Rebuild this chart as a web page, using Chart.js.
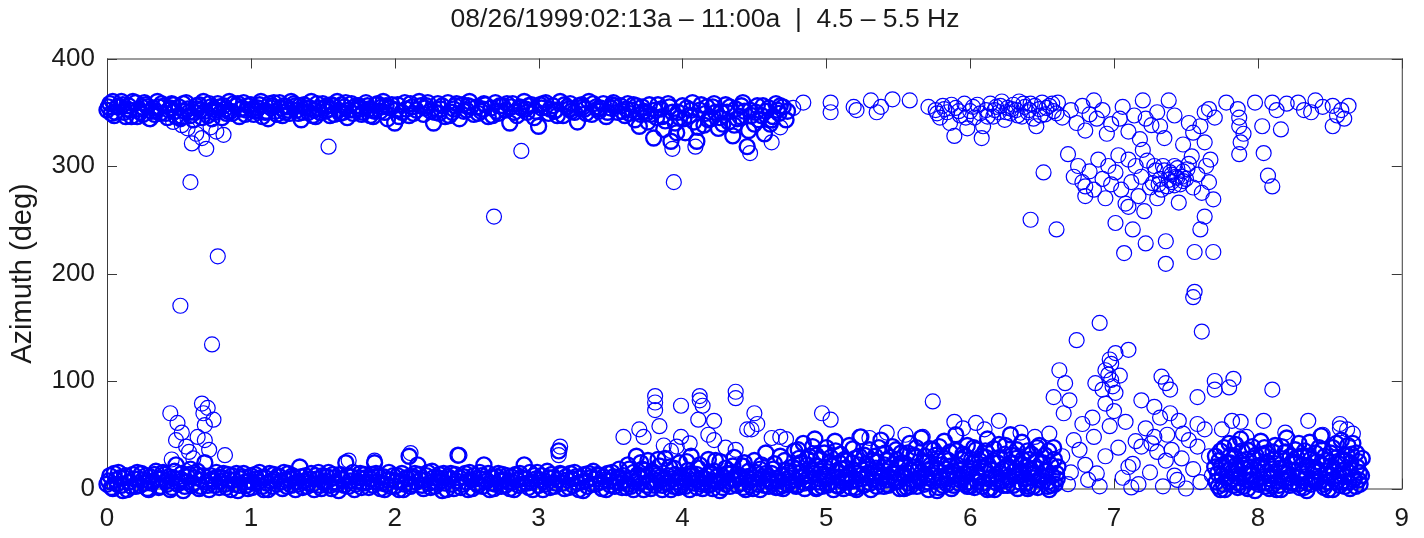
<!DOCTYPE html>
<html>
<head>
<meta charset="utf-8">
<title>Azimuth 08/26/1999</title>
<script src="https://cdn.jsdelivr.net/npm/chart.js@4.4.1/dist/chart.umd.min.js"></script>
<style>
  body { margin: 0; background: #fff; }
  #wrap { width: 1424px; height: 538px; }
</style>
</head>
<body>
<div id="wrap"><canvas id="azChart" width="1424" height="538"></canvas></div>
<script>
// chart text
const chartTitle = '08/26/1999:02:13a \u2013 11:00a  |  4.5 \u2013 5.5 Hz';
const yLabel = 'Azimuth (deg)';
const xTicks = [0, 1, 2, 3, 4, 5, 6, 7, 8, 9];
const yTicks = [0, 100, 200, 300, 400];

// azimuth values [time, deg], grouped by region
// upper band, 0 - 4.75
const upperBand = [
  [0.00,352],[0.02,358],[0.05,347],[0.07,355],[0.10,360],[0.12,350],[0.15,356],[0.17,346],[0.20,359],[0.22,353],
  [0.25,348],[0.27,357],[0.30,344],[0.32,354],[0.35,360],[0.37,349],[0.40,356],[0.42,345],[0.45,358],[0.47,351],
  [0.50,355],[0.52,346],[0.55,359],[0.57,350],[0.60,343],[0.62,356],[0.65,352],[0.67,360],[0.70,347],[0.72,355],
  [0.75,350],[0.77,358],[0.80,345],[0.82,353],[0.85,360],[0.87,349],[0.90,356],[0.92,346],[0.95,359],[0.97,352],
  [1.00,357],[1.02,348],[1.05,354],[1.07,360],[1.10,350],[1.12,344],[1.15,356],[1.17,351],[1.20,359],[1.22,347],
  [1.25,355],[1.27,349],[1.30,358],[1.32,352],[1.35,343],[1.37,357],[1.40,350],[1.42,360],[1.45,346],[1.47,354],
  [1.50,358],[1.52,351],[1.55,347],[1.57,356],[1.60,360],[1.62,349],[1.65,355],[1.67,345],[1.70,358],[1.72,352],
  [1.75,356],[1.77,348],[1.80,359],[1.82,353],[1.85,346],[1.87,357],[1.90,351],[1.92,360],[1.95,344],[1.97,354],
  [2.00,340],[2.02,357],[2.05,350],[2.07,359],[2.10,347],[2.12,355],[2.15,352],[2.17,360],[2.20,348],[2.22,356],
  [2.25,351],[2.27,340],[2.30,358],[2.32,353],[2.35,346],[2.37,359],[2.40,350],[2.42,356],[2.45,344],[2.47,357],
  [2.50,352],[2.52,360],[2.55,348],[2.57,355],[2.60,351],[2.62,358],[2.65,346],[2.67,354],[2.70,359],[2.72,349],
  [2.75,356],[2.77,352],[2.80,340],[2.82,358],[2.85,347],[2.87,355],[2.90,360],[2.92,350],[2.95,357],[2.97,345],
  [3.00,337],[3.02,354],[3.05,359],[3.07,349],[3.10,356],[3.12,352],[3.15,360],[3.17,347],[3.20,355],[3.22,358],
  [3.25,350],[3.27,341],[3.30,357],[3.32,353],[3.35,360],[3.37,348],[3.40,355],[3.42,351],[3.45,358],[3.47,346],
  [3.50,354],[3.52,359],[3.55,350],[3.57,356],[3.60,347],[3.62,358],[3.65,352],[3.67,343],[3.70,337],[3.72,355],
  [3.75,349],[3.77,357],[3.80,326],[3.82,345],[3.85,353],[3.87,334],[3.90,358],[3.92,323],[3.95,340],[3.97,350],
  [4.00,356],[4.02,331],[4.05,347],[4.07,359],[4.10,323],[4.12,352],[4.15,338],[4.17,355],[4.20,344],[4.22,358],
  [4.25,335],[4.27,350],[4.30,357],[4.32,341],[4.35,328],[4.37,353],[4.40,346],[4.42,359],[4.45,318],[4.47,352],
  [4.50,339],[4.52,356],[4.55,347],[4.57,330],[4.60,354],[4.62,343],[4.65,358],[4.67,349],[4.70,355],[4.73,351]
];
const upperFill = [
  [0.01,355],[0.06,350],[0.11,357],[0.16,352],[0.21,346],[0.26,359],[0.31,351],[0.36,355],[0.41,349],[0.46,357],
  [0.51,344],[0.56,353],[0.61,350],[0.66,345],[0.71,358],[0.76,352],[0.81,356],[0.86,351],[0.91,358],[0.96,348],
  [1.01,353],[1.06,357],[1.11,351],[1.16,359],[1.21,354],[1.26,352],[1.31,356],[1.36,350],[1.41,354],[1.46,358],
  [1.51,354],[1.56,357],[1.61,352],[1.66,359],[1.71,349],[1.76,353],[1.81,356],[1.86,351],
  [1.91,355],[2.01,352],[2.11,358],[2.21,354],[2.31,349],[2.41,353],[2.51,356],[2.61,353],[2.71,351],[2.81,355],
  [2.91,353],[3.01,357],[3.11,351],[3.21,353],[3.31,355],[3.41,353],[3.51,357],
  [3.61,353],[3.66,357],[3.71,348],[3.76,341],[3.81,352],[3.86,346],[3.91,355],[3.96,331],[4.01,344],[4.06,352],
  [4.11,336],[4.16,349],[4.21,355],[4.26,345],[4.31,350],[4.36,338],[4.41,356],[4.46,333],[4.51,350],[4.56,356],
  [4.61,339],[4.66,352]
];
const upperFill2 = [
  [0.03,349],[0.08,356],[0.13,346],[0.18,360],[0.23,350],[0.28,355],[0.33,348],[0.38,358],[0.43,352],[0.48,346],
  [0.53,358],[0.58,347],[0.63,353],[0.68,351],[0.73,344],[0.78,355],[0.83,349],[0.88,358],[0.93,353],[0.98,356],
  [1.03,351],[1.08,346],[1.13,358],[1.18,348],[1.23,356],[1.28,360],[1.33,349],[1.38,354],[1.43,347],[1.48,350],
  [1.53,356],[1.58,348],[1.63,357],[1.68,352],[1.73,356],[1.78,350],[1.83,347],[1.88,358],[1.93,350],[1.98,357],
  [2.03,346],[2.08,353],[2.13,349],[2.18,356],[2.23,359],[2.28,350],[2.33,356],[2.38,347],[2.43,358],[2.48,351],
  [2.53,355],[2.58,349],[2.63,357],[2.68,347],[2.73,356],[2.78,358],[2.83,350],[2.88,354],[2.93,356],[2.98,351],
  [3.03,358],[3.08,353],[3.13,347],[3.18,357],[3.23,351],[3.28,356],[3.33,349],[3.38,358],[3.43,354],[3.48,350],
  [3.53,356],[3.58,351],[3.63,349],[3.68,356],[3.73,351],[3.78,348],[3.83,357],[3.88,342],[3.93,350],[3.98,345],
  [4.03,354],[4.08,341],[4.13,357],[4.18,343],[4.23,350],[4.28,339],[4.33,355],[4.38,344],[4.43,351],[4.48,347],
  [4.53,343],[4.58,351],[4.63,346],[4.68,356],[4.72,343],
  [0.04,360],[0.14,353],[0.24,355],[0.34,351],[0.44,354],[0.54,351],[0.64,357],[0.74,353],[0.84,351],[0.94,354],
  [1.04,352],[1.14,354],[1.24,350],[1.34,356],[1.44,352],[1.54,353],[1.64,350],[1.74,354],[1.84,352],[1.94,356]
];
const upperOutliers = [
  [0.29,344],[0.46,341],[0.52,338],[0.56,335],[0.59,321],[0.62,330],[0.66,326],[0.69,316],[0.72,336],[0.76,332],
  [0.81,329],[0.58,285],[0.77,216],[1.54,318],[2.69,253],[2.88,314],[3.94,285],[3.93,316],[4.09,318],[4.47,312],
  [4.62,322],[4.68,336]
];
// upper band, 4.75 - 8.7
const upperRight = [
  [4.77,354],[4.84,359],[5.03,359],[5.03,350],[5.19,355],[5.21,352],[5.31,361],[5.35,350],[5.38,355],[5.46,362],
  [5.58,361],[5.71,355],
  [5.76,352],[5.79,345],[5.81,356],[5.84,350],[5.86,340],[5.89,328],[5.90,354],[5.93,347],[5.96,358],[5.98,335],
  [6.00,351],[6.03,345],[6.05,357],[6.08,326],[6.09,337],[6.11,352],[6.14,358],[6.16,346],[6.18,355],[6.20,350],
  [6.22,360],[6.24,343],[6.26,354],[6.28,349],[6.30,357],[6.32,352],[6.34,360],[6.36,346],[6.38,355],[6.40,350],
  [6.42,358],[6.44,344],[6.46,337],[6.48,353],[6.50,359],[6.52,348],[6.55,356],[6.58,351],[6.61,359],
  [5.77,349],[5.82,353],[5.87,357],[5.92,351],[5.97,345],[6.02,355],[6.07,349],[6.12,346],[6.17,352],[6.21,356],
  [6.25,350],[6.29,353],[6.33,347],[6.37,358],[6.41,352],[6.45,356],[6.49,347],[6.53,354],[6.57,358],[6.60,349],
  [6.64,345],[6.70,352],[6.74,340],[6.78,356],[6.80,333],[6.83,348],[6.86,361],[6.88,344],[6.92,352],[6.95,330],
  [6.98,339],[7.04,344],[7.06,355],[7.10,332],[7.14,347],[7.18,325],[7.20,361],[7.22,344],[7.26,338],[7.30,350],
  [7.32,337],[7.35,326],[7.38,361],[7.42,347],[7.48,320],[7.52,340],[7.55,331],[7.60,337],[7.63,350],[7.66,353],
  [7.70,345],[7.78,359],[7.86,353],[7.87,345],[7.87,337],[7.88,322],[7.87,311],[7.90,330],[7.98,359],[8.03,337],
  [8.04,312],[8.07,291],[8.10,281],[8.10,359],[8.13,352],[8.16,334],[8.20,358],[8.28,359],[8.32,352],[8.37,350],
  [8.40,361],[8.45,355],[8.52,356],[8.52,337],[8.55,347],[8.58,352],[8.63,356],[8.60,344]
];
// spread between 180 and 320, 6.4 - 7.7
const midScatter = [
  [6.42,250],[6.51,294],[6.60,241],[6.68,311],[6.72,290],[6.75,300],[6.78,285],[6.80,281],[6.80,272],[6.83,295],
  [6.86,278],[6.89,306],[6.92,288],[6.94,270],[6.96,300],[6.98,283],[7.01,294],[7.01,247],[7.03,310],[7.05,278],
  [7.07,219],[7.08,265],[7.10,306],[7.10,262],[7.12,285],[7.13,241],[7.15,300],[7.17,272],[7.19,290],[7.21,258],
  [7.22,228],[7.23,305],[7.25,280],[7.27,284],[7.29,296],[7.30,270],[7.32,288],[7.34,300],[7.36,230],[7.36,209],
  [7.37,281],[7.39,294],[7.40,285],[7.42,300],[7.43,290],[7.45,266],[7.46,283],[7.48,295],[7.50,288],[7.51,297],
  [7.52,302],[7.54,309],[7.55,280],[7.56,220],[7.56,183],[7.58,292],[7.60,241],[7.61,275],[7.63,253],[7.64,300],
  [7.66,285],[7.67,306],[7.69,269],[7.69,220],[7.63,322],[7.20,315],[7.28,300],[7.44,298],[7.33,278],[7.47,290],
  [7.38,287],[7.40,292],[7.42,282],[7.44,289],[7.35,296],[7.48,286],[7.31,283]
];
// lower band, 0 - 3.6
const lowerBandA = [
  [0.00,4],[0.02,12],[0.04,0],[0.06,8],[0.08,15],[0.10,3],[0.12,10],[0.14,-1],[0.16,6],[0.18,13],
  [0.20,2],[0.22,9],[0.24,14],[0.26,5],[0.28,0],[0.30,11],[0.32,7],[0.34,16],[0.36,1],[0.38,9],
  [0.40,13],[0.42,4],[0.44,-1],[0.46,10],[0.48,22],[0.50,6],[0.52,14],[0.54,2],[0.56,11],[0.58,18],
  [0.60,5],[0.62,13],[0.64,0],[0.66,8],[0.68,24],[0.70,3],[0.72,12],[0.74,7],[0.76,15],[0.78,1],
  [0.80,10],[0.82,4],[0.84,13],[0.86,-1],[0.88,8],[0.90,14],[0.92,3],[0.94,11],[0.96,6],[0.98,0],
  [1.00,12],[1.02,5],[1.04,9],[1.06,15],[1.08,2],[1.10,10],[1.12,-1],[1.14,7],[1.16,13],[1.18,4],
  [1.20,11],[1.22,0],[1.24,8],[1.26,14],[1.28,3],[1.30,10],[1.32,6],[1.34,20],[1.36,1],[1.38,12],
  [1.40,5],[1.42,14],[1.44,-1],[1.46,9],[1.48,3],[1.50,12],[1.52,7],[1.54,15],[1.56,0],[1.58,10],
  [1.60,4],[1.62,13],[1.64,8],[1.66,24],[1.68,2],[1.70,11],[1.72,-1],[1.74,7],[1.76,14],[1.78,5],
  [1.80,10],[1.82,1],[1.84,13],[1.86,24],[1.88,6],[1.90,0],[1.92,11],[1.94,4],[1.96,15],[1.98,8],
  [2.00,2],[2.02,12],[2.04,6],[2.06,-1],[2.08,10],[2.10,30],[2.12,4],[2.14,14],[2.16,22],[2.18,8],
  [2.20,0],[2.22,12],[2.24,5],[2.26,16],[2.28,2],[2.30,10],[2.32,7],[2.34,14],[2.36,-1],[2.38,9],
  [2.40,4],[2.42,13],[2.44,31],[2.46,1],[2.48,11],[2.50,6],[2.52,15],[2.54,0],[2.56,9],[2.58,3],
  [2.60,12],[2.62,22],[2.64,7],[2.66,-1],[2.68,10],[2.70,4],[2.72,14],[2.74,2],[2.76,8],[2.78,12],
  [2.80,0],[2.82,6],[2.84,13],[2.86,3],[2.88,10],[2.90,22],[2.92,5],[2.94,15],[2.96,-1],[2.98,9],
  [3.00,3],[3.02,12],[3.04,7],[3.06,16],[3.08,1],[3.10,10],[3.12,5],[3.14,35],[3.16,13],[3.18,0],
  [3.20,8],[3.22,14],[3.24,3],[3.26,11],[3.28,-1],[3.30,6],[3.32,13],[3.34,2],[3.36,10],[3.38,16],
  [3.40,4],[3.42,12],[3.44,0],[3.46,8],[3.48,14],[3.50,3],[3.52,11],[3.54,6],[3.56,18],[3.58,1]
];
const lowerBandA2 = [
  [0.01,7],[0.03,1],[0.05,14],[0.07,4],[0.09,10],[0.11,-2],[0.13,12],[0.15,6],[0.17,2],[0.19,9],
  [0.21,15],[0.23,3],[0.25,8],[0.27,12],[0.29,-1],[0.31,5],[0.33,13],[0.35,9],[0.37,2],[0.39,15],
  [0.41,7],[0.43,11],[0.45,1],[0.47,16],[0.49,4],[0.51,9],[0.53,-2],[0.55,6],[0.57,13],[0.59,3],
  [0.61,10],[0.63,16],[0.65,2],[0.67,12],[0.69,6],[0.71,-1],[0.73,9],[0.75,3],[0.77,11],[0.79,7],
  [0.81,14],[0.83,1],[0.85,8],[0.87,12],[0.89,4],[0.91,-2],[0.93,9],[0.95,14],[0.97,3],[0.99,7],
  [1.01,1],[1.03,13],[1.05,6],[1.07,10],[1.09,-1],[1.11,5],[1.13,14],[1.15,2],[1.17,8],[1.19,12],
  [1.21,6],[1.23,15],[1.25,2],[1.27,9],[1.29,12],[1.31,-1],[1.33,4],[1.35,11],[1.37,7],[1.39,2],
  [1.41,9],[1.43,4],[1.45,12],[1.47,15],[1.49,0],[1.51,5],[1.53,11],[1.55,3],[1.57,13],[1.59,6],
  [1.61,-2],[1.63,9],[1.65,3],[1.67,12],[1.69,7],[1.71,15],[1.73,4],[1.75,10],[1.77,1],[1.79,13],
  [1.81,6],[1.83,9],[1.85,3],[1.87,14],[1.89,11],[1.91,5],[1.93,-1],[1.95,8],[1.97,2],[1.99,12],
  [2.01,7],[2.03,-1],[2.05,14],[2.07,4],[2.09,9],[2.11,2],[2.13,11],[2.15,6],[2.17,13],[2.19,3],
  [2.21,8],[2.23,15],[2.25,1],[2.27,10],[2.29,6],[2.31,13],[2.33,-2],[2.35,5],[2.37,11],[2.39,14],
  [2.41,0],[2.43,7],[2.45,10],[2.47,4],[2.49,14],[2.51,-1],[2.53,8],[2.55,12],[2.57,5],[2.59,15],
  [2.61,2],[2.63,9],[2.65,14],[2.67,5],[2.69,0],[2.71,11],[2.73,7],[2.75,13],[2.77,3],[2.79,6],
  [2.81,11],[2.83,-1],[2.85,8],[2.87,14],[2.89,4],[2.91,9],[2.93,1],[2.95,6],[2.97,12],[2.99,15],
  [3.01,8],[3.03,-1],[3.05,4],[3.07,10],[3.09,13],[3.11,2],[3.13,8],[3.15,14],[3.17,5],[3.19,11],
  [3.21,1],[3.23,9],[3.25,15],[3.27,5],[3.29,10],[3.31,-2],[3.33,7],[3.35,14],[3.37,4],[3.39,9],
  [3.41,13],[3.43,6],[3.45,11],[3.47,-1],[3.49,7],[3.51,15],[3.53,2],[3.55,10],[3.57,5],[3.59,12]
];
const lowerSpikesA = [
  [0.44,70],[0.49,61],[0.48,45],[0.55,39],[0.57,34],[0.66,79],[0.67,70],[0.68,59],[0.68,45],[0.71,36],
  [0.82,31],[0.45,27],[0.51,170],[0.73,134],[0.52,52],[0.60,28],[0.63,48],[0.74,64],[3.14,31],[3.15,39],
  [1.68,26],[1.86,26],[2.11,33],[2.45,31],[0.70,75]
];
// lower band, 3.6 - 4.75
const lowerBandB = [
  [3.60,8],[3.62,22],[3.64,2],[3.66,15],[3.68,30],[3.70,5],[3.72,18],[3.74,11],[3.76,26],[3.78,0],
  [3.80,14],[3.82,7],[3.84,21],[3.86,3],[3.88,28],[3.90,12],[3.92,-1],[3.94,19],[3.96,6],[3.98,24],
  [4.00,10],[4.02,2],[4.04,17],[4.06,30],[4.08,5],[4.10,13],[4.12,22],[4.14,0],[4.16,9],[4.18,27],
  [4.20,4],[4.22,16],[4.24,11],[4.26,25],[4.28,1],[4.30,19],[4.32,7],[4.34,14],[4.36,29],[4.38,3],
  [4.40,12],[4.42,21],[4.44,-1],[4.46,16],[4.48,8],[4.50,26],[4.52,4],[4.54,18],[4.56,11],[4.58,33],
  [4.60,2],[4.62,14],[4.64,23],[4.66,7],[4.68,30],[4.70,0],[4.72,17],[4.74,10],
  [3.61,1],[3.65,9],[3.69,13],[3.73,-1],[3.77,7],[3.81,3],[3.85,11],[3.89,5],[3.93,9],[3.97,1],
  [4.01,6],[4.05,-1],[4.09,8],[4.13,4],[4.17,12],[4.21,0],[4.25,6],[4.29,10],[4.33,2],[4.37,8],
  [4.41,5],[4.45,11],[4.49,0],[4.53,9],[4.57,3],[4.61,7],[4.65,1],[4.69,12],[4.73,4],
  [3.63,18],[3.67,6],[3.71,24],[3.75,3],[3.79,16],[3.83,27],[3.87,9],[3.91,20],[3.95,13],[3.99,2],
  [4.03,25],[4.07,12],[4.11,19],[4.15,5],[4.19,15],[4.23,26],[4.27,8],[4.31,14],[4.35,21],[4.39,10],
  [4.43,24],[4.47,3],[4.51,15],[4.55,22],[4.59,9],[4.63,18],[4.67,1],[4.71,26],[4.75,7],
  [3.62,4],[3.66,-1],[3.70,10],[3.74,17],[3.78,6],[3.82,12],[3.86,-1],[3.90,5],[3.94,2],[3.98,11],
  [4.02,8],[4.06,14],[4.10,1],[4.14,10],[4.18,3],[4.22,7],[4.26,-2],[4.30,4],[4.34,9],[4.38,13],
  [4.42,1],[4.46,6],[4.50,10],[4.54,-1],[4.58,14],[4.62,5],[4.66,9],[4.70,3],[4.74,15]
];
const lowerSpikesB = [
  [3.59,48],[3.70,55],[3.73,48],[3.81,86],[3.81,80],[3.81,73],[3.84,58],[3.87,40],[3.96,39],[3.99,77],
  [3.99,48],[4.11,64],[4.12,86],[4.12,82],[4.14,77],[4.18,50],[4.22,63],[4.22,45],[4.30,38],[4.37,90],
  [4.37,84],[4.37,36],[4.45,55],[4.48,55],[4.50,70],[4.52,60],[4.62,47],[4.68,48],[4.72,46],[3.92,35],
  [4.05,42]
];
// lower band, 4.75 - 6.6
const lowerBandC = [
  [4.76,12],[4.78,35],[4.80,3],[4.82,24],[4.84,42],[4.86,8],[4.88,30],[4.90,17],[4.92,46],[4.94,1],
  [4.96,27],[4.98,13],[5.00,38],[5.02,5],[5.04,21],[5.06,44],[5.08,10],[5.10,32],[5.12,0],[5.14,19],
  [5.16,40],[5.18,7],[5.20,28],[5.22,14],[5.24,48],[5.26,3],[5.28,23],[5.30,36],[5.32,9],[5.34,30],
  [5.36,16],[5.38,45],[5.40,2],[5.42,26],[5.44,11],[5.46,39],[5.48,6],[5.50,20],[5.52,33],[5.54,0],
  [5.56,15],[5.58,42],[5.60,8],[5.62,29],[5.64,18],[5.66,47],[5.68,4],[5.70,25],[5.72,37],[5.74,12],
  [5.76,31],[5.78,1],[5.80,22],[5.82,44],[5.84,9],[5.86,34],[5.88,16],[5.90,50],[5.92,5],[5.94,27],
  [5.96,14],[5.98,40],[6.00,2],[6.02,24],[6.04,36],[6.06,10],[6.08,30],[6.10,19],[6.12,46],[6.14,0],
  [6.16,26],[6.18,13],[6.20,41],[6.22,7],[6.24,32],[6.26,21],[6.28,50],[6.30,3],[6.32,28],[6.34,15],
  [6.36,43],[6.38,9],[6.40,35],[6.42,18],[6.44,2],[6.46,26],[6.48,40],[6.50,11],[6.52,31],[6.54,6],
  [6.56,22],[6.58,38],[6.60,14],
  [4.77,4],[4.79,18],[4.81,28],[4.83,10],[4.85,0],[4.87,22],[4.89,6],[4.91,14],[4.93,31],[4.95,9],
  [4.97,2],[4.99,20],[5.01,12],[5.03,29],[5.05,-1],[5.07,16],[5.09,24],[5.11,7],[5.13,11],[5.15,26],
  [5.17,1],[5.19,17],[5.21,8],[5.23,30],[5.25,13],[5.27,4],[5.29,21],[5.31,-1],[5.33,15],[5.35,25],
  [5.37,6],[5.39,12],[5.41,33],[5.43,3],[5.45,19],[5.47,9],[5.49,27],[5.51,0],[5.53,14],[5.55,23],
  [5.57,5],[5.59,17],[5.61,31],[5.63,2],[5.65,10],[5.67,24],[5.69,13],[5.71,-1],[5.73,19],[5.75,7],
  [5.77,28],[5.79,11],[5.81,3],[5.83,18],[5.85,26],[5.87,0],[5.89,13],[5.91,22],[5.93,8],[5.95,32],
  [5.97,4],[5.99,16],[6.01,27],[6.03,1],[6.05,12],[6.07,20],[6.09,5],[6.11,29],[6.13,9],[6.15,17],
  [6.17,-1],[6.19,24],[6.21,14],[6.23,3],[6.25,20],[6.27,8],[6.29,31],[6.31,12],[6.33,0],[6.35,22],
  [6.37,16],[6.39,5],[6.41,27],[6.43,10],[6.45,19],[6.47,1],[6.49,23],[6.51,7],[6.53,16],[6.55,-1],
  [6.57,12],[6.59,4]
];
const lowerBandC2 = [
  [4.765,20],[4.785,8],[4.805,36],[4.825,15],[4.845,5],[4.865,28],[4.885,12],[4.905,39],[4.925,21],[4.945,6],
  [4.965,16],[4.985,33],[5.005,3],[5.025,24],[5.045,11],[5.065,35],[5.085,2],[5.105,18],[5.125,27],[5.145,8],
  [5.165,13],[5.185,37],[5.205,1],[5.225,22],[5.245,9],[5.265,31],[5.285,14],[5.305,5],[5.325,26],[5.345,19],
  [5.365,38],[5.385,10],[5.405,22],[5.425,4],[5.445,29],[5.465,15],[5.485,36],[5.505,7],[5.525,24],[5.545,12],
  [5.565,33],[5.585,2],[5.605,20],[5.625,38],[5.645,9],[5.665,15],[5.685,30],[5.705,6],[5.725,22],[5.745,36],
  [5.765,17],[5.785,39],[5.805,8],[5.825,28],[5.845,14],[5.865,21],[5.885,3],[5.905,35],[5.925,17],[5.945,11],
  [5.965,30],[5.985,6],[6.005,19],[6.025,38],[6.045,15],[6.065,26],[6.085,2],[6.105,35],[6.125,22],[6.145,10],
  [6.165,37],[6.185,5],[6.205,29],[6.225,18],[6.245,40],[6.265,11],[6.285,24],[6.305,16],[6.325,36],[6.345,6],
  [6.365,27],[6.385,20],[6.405,2],[6.425,32],[6.445,14],[6.465,38],[6.485,8],[6.505,24],[6.525,17],[6.545,35],
  [6.565,3],[6.585,27],[6.605,9],
  [4.79,2],[4.86,14],[4.93,0],[5.00,9],[5.07,3],[5.14,6],[5.21,-1],[5.28,10],[5.35,2],[5.42,8],
  [5.49,14],[5.56,1],[5.63,7],[5.70,10],[5.77,-2],[5.84,4],[5.91,12],[5.98,2],[6.05,6],[6.12,-1],
  [6.19,9],[6.26,3],[6.33,12],[6.40,0],[6.47,8],[6.54,2],[6.61,20]
];
const lowerSpikesC = [
  [4.97,70],[5.03,64],[5.23,48],[5.42,52],[5.67,48],[5.74,81],[5.89,62],[5.95,56],[6.04,61],[6.20,63],
  [6.35,52],[6.10,55],[5.30,47],[5.55,50],[6.45,48]
];
// 6.55 - 7.7, sparse
const lowerScatterD = [
  [6.62,110],[6.66,98],[6.58,85],[6.69,82],[6.55,51],[6.74,138],[6.90,154],[7.10,129],[7.01,126],[6.98,116],
  [6.94,110],[6.98,101],[6.87,98],[7.01,89],[6.94,79],[7.33,104],[7.36,98],[7.39,92],[7.19,82],[7.28,76],
  [7.39,70],[7.28,48],[7.58,85],[7.48,51],[7.58,39],[6.94,30],[7.10,20],[7.13,23],[7.36,26],[7.19,39],
  [7.61,146],[7.55,178],[6.97,120],[6.92,92],[6.96,106],[6.99,95],[7.04,105],[7.00,72],[6.85,66],[6.78,60],
  [6.72,45],[6.65,70],[6.64,30],[6.70,15],[6.76,36],[6.82,8],[6.86,48],[6.90,2],[6.97,58],[7.03,38],
  [7.06,10],[7.08,62],[7.15,44],[7.17,4],[7.22,56],[7.25,15],[7.30,34],[7.34,2],[7.37,50],[7.42,12],
  [7.45,63],[7.47,28],[7.50,0],[7.52,45],[7.55,18],[7.60,6],[7.63,55],[7.66,30],[7.68,12],[6.68,4],
  [6.80,22],[6.88,14],[7.12,1],[7.26,42],[7.40,36],[7.32,66],[7.44,8],[7.58,60]
];
// lower band, 7.7 - 8.72
const lowerBandE = [
  [7.70,20],[7.72,14],[7.74,35],[7.76,4],[7.78,24],[7.80,42],[7.82,9],[7.84,30],[7.86,18],[7.88,46],
  [7.90,2],[7.92,27],[7.94,13],[7.96,39],[7.98,6],[8.00,21],[8.02,44],[8.04,11],[8.06,33],[8.08,0],
  [8.10,18],[8.12,40],[8.14,7],[8.16,28],[8.18,15],[8.20,47],[8.22,3],[8.24,25],[8.26,36],[8.28,10],
  [8.30,30],[8.32,1],[8.34,20],[8.36,43],[8.38,8],[8.40,33],[8.42,16],[8.44,49],[8.46,4],[8.48,26],
  [8.50,13],[8.52,38],[8.54,6],[8.56,23],[8.58,45],[8.60,11],[8.62,31],[8.64,18],[8.66,42],[8.68,2],
  [8.70,25],[8.72,12],
  [7.71,6],[7.73,26],[7.75,12],[7.77,-1],[7.79,17],[7.81,31],[7.83,3],[7.85,22],[7.87,10],[7.89,35],
  [7.91,14],[7.93,0],[7.95,20],[7.97,28],[7.99,8],[8.01,15],[8.03,32],[8.05,2],[8.07,24],[8.09,12],
  [8.11,27],[8.13,-1],[8.15,19],[8.17,9],[8.19,34],[8.21,14],[8.23,5],[8.25,17],[8.27,29],[8.29,1],
  [8.31,22],[8.33,11],[8.35,30],[8.37,4],[8.39,16],[8.41,25],[8.43,7],[8.45,36],[8.47,13],[8.49,-1],
  [8.51,21],[8.53,9],[8.55,29],[8.57,3],[8.59,17],[8.61,26],[8.63,6],[8.65,32],[8.67,10],[8.69,20],
  [8.71,4],
  [7.705,30],[7.725,2],[7.745,20],[7.765,38],[7.785,10],[7.805,24],[7.825,16],[7.845,41],[7.865,5],[7.885,26],
  [7.905,19],[7.925,36],[7.945,7],[7.965,13],[7.985,31],[8.005,4],[8.025,22],[8.045,38],[8.065,16],[8.085,9],
  [8.105,34],[8.125,23],[8.145,3],[8.165,39],[8.185,20],[8.205,10],[8.225,30],[8.245,6],[8.265,24],[8.285,42],
  [8.305,14],[8.325,35],[8.345,5],[8.365,27],[8.385,19],[8.405,9],[8.425,38],[8.445,22],[8.465,30],[8.485,6],
  [8.505,33],[8.525,18],[8.545,42],[8.565,12],[8.585,26],[8.605,2],[8.625,40],[8.645,24],[8.665,8],[8.685,33],
  [8.705,15],[8.725,28],
  [7.74,-1],[7.80,6],[7.86,1],[7.92,8],[7.98,-2],[8.04,5],[8.10,3],[8.16,-1],[8.22,10],[8.28,4],
  [8.34,-2],[8.40,7],[8.46,1],[8.52,-1],[8.58,6],[8.64,0],[8.70,8]
];
const lowerSpikesE = [
  [7.70,100],[7.83,102],[7.70,92],[7.80,94],[8.10,92],[7.82,63],[8.04,63],[8.19,52],[8.35,63],[8.57,60],
  [8.66,51],[8.57,56],[7.75,55],[7.92,48],[8.45,50],[8.62,55],[7.88,62]
];

const toXY = arrs => [].concat(...arrs).map(p => ({ x: p[0], y: p[1] }));
// dense bands blur to solid blue in the original, drawn a bit heavier
const bandPoints = toXY([upperBand, upperFill, upperFill2, lowerBandA, lowerBandA2,
  lowerBandB, lowerBandC, lowerBandC2, lowerBandE]);
const loosePoints = toXY([upperOutliers, upperRight, midScatter, lowerSpikesA,
  lowerSpikesB, lowerSpikesC, lowerScatterD, lowerSpikesE]);

const FONT = "'Liberation Sans', Arial, Helvetica, sans-serif";
const AXIS_COLOR = '#3a3a3a';
const TEXT_COLOR = '#1a1a1a';

// matlab style box with inward ticks
const boxAxes = {
  id: 'boxAxes',
  beforeDatasetsDraw(chart) {
    const { ctx, chartArea: a, scales } = chart;
    const len = 10;
    ctx.save();
    ctx.strokeStyle = AXIS_COLOR;
    ctx.lineWidth = 1;
    ctx.strokeRect(a.left + 0.5, a.top + 0.5, a.right - a.left, a.bottom - a.top);
    ctx.beginPath();
    xTicks.forEach(v => {
      const px = Math.round(scales.x.getPixelForValue(v)) + 0.5;
      ctx.moveTo(px, a.bottom); ctx.lineTo(px, a.bottom - len);
      ctx.moveTo(px, a.top); ctx.lineTo(px, a.top + len);
    });
    yTicks.forEach(v => {
      const py = Math.round(scales.y.getPixelForValue(v)) + 0.5;
      ctx.moveTo(a.left, py); ctx.lineTo(a.left + len, py);
      ctx.moveTo(a.right, py); ctx.lineTo(a.right - len, py);
    });
    ctx.stroke();
    ctx.restore();
  }
};

function circles(label, data, width) {
  return {
    label: label,
    data: data,
    pointStyle: 'circle',
    pointRadius: 7.5,
    pointBorderWidth: width,
    pointBorderColor: 'rgb(0,0,255)',
    pointBackgroundColor: 'rgba(0,0,0,0)',
    clip: false
  };
}

const ctx = document.getElementById('azChart').getContext('2d');
new Chart(ctx, {
  type: 'scatter',
  data: {
    datasets: [
      circles('Azimuth (bands)', bandPoints, 2.4),
      circles('Azimuth', loosePoints, 1.2)
    ]
  },
  options: {
    responsive: false,
    animation: false,
    devicePixelRatio: 1,
    events: [],
    layout: { autoPadding: false, padding: { left: 0, right: 14, top: 0, bottom: 0 } },
    plugins: {
      legend: { display: false },
      tooltip: { enabled: false },
      title: {
        display: true,
        text: chartTitle,
        color: TEXT_COLOR,
        font: { family: FONT, size: 26.5, weight: 'normal' },
        padding: { top: 4, bottom: 22.7 }
      }
    },
    scales: {
      x: {
        type: 'linear',
        min: 0,
        max: 9,
        afterBuildTicks: s => { s.ticks = xTicks.map(v => ({ value: v })); },
        afterFit: s => { s.height = 49.5; },
        ticks: { color: TEXT_COLOR, font: { family: FONT, size: 26 }, padding: 15, maxRotation: 0 },
        grid: { display: false, drawTicks: false },
        border: { display: false }
      },
      y: {
        type: 'linear',
        min: 0,
        max: 400,
        afterBuildTicks: s => { s.ticks = yTicks.map(v => ({ value: v })); },
        afterFit: s => { s.width = 107; },
        ticks: { color: TEXT_COLOR, font: { family: FONT, size: 26 }, padding: 12 },
        grid: { display: false, drawTicks: false },
        border: { display: false },
        title: {
          display: true,
          text: yLabel,
          color: TEXT_COLOR,
          font: { family: FONT, size: 29 },
          padding: { top: 6, bottom: 0 }
        }
      }
    }
  },
  plugins: [boxAxes]
});
</script>
</body>
</html>
